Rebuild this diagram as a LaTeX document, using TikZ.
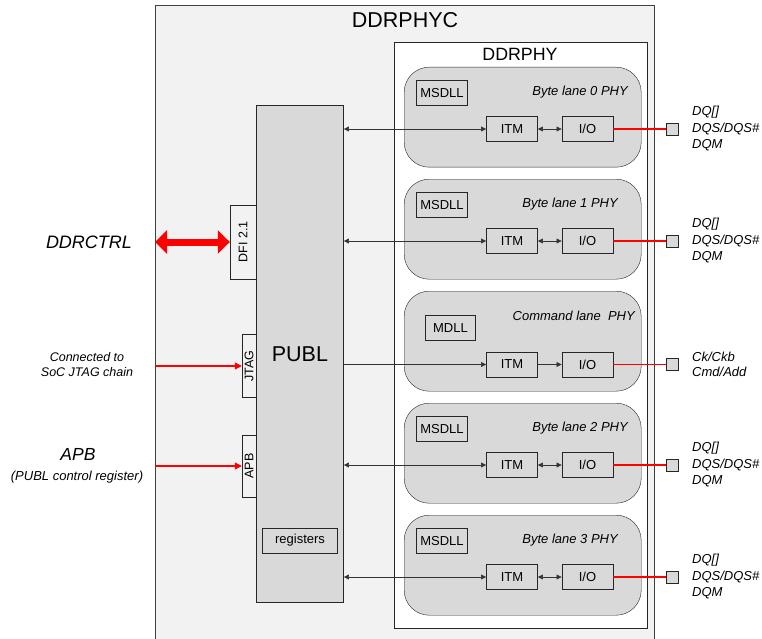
\documentclass[tikz,border=0pt]{standalone}
\usepackage{fontspec}
\setmainfont{Liberation Sans}
\usetikzlibrary{positioning,arrows.meta}

\begin{document}
\begin{tikzpicture}[x=1pt,y=-1pt,
  box/.style={draw=black!85,line width=0.9pt,fill=gray!30,inner sep=0pt,minimum width=51,minimum height=25,font=\fontsize{13}{15}\selectfont},
  port/.style={draw=black!85,fill=gray!10,inner sep=0pt,rotate=90,font=\fontsize{12.5}{15}\selectfont},
  lane/.style={draw=black!85,fill=gray!30,rounded corners=25,minimum width=237,minimum height=100,anchor=north west},
  pad/.style={draw=black!85,line width=0.9pt,fill=gray!30,minimum size=12,inner sep=0pt},
  note/.style={font=\fontsize{13}{16.5}\selectfont\itshape,align=left,inner sep=0pt},
  link/.style={draw=black!80,line width=0.6pt},
  wire/.style={draw=red,line width=1.2pt},
  >={Triangle[length=5pt,width=5pt]}]
\useasboundingbox (0,0) rectangle (762,639);

\node[draw=black!75,line width=1.2pt,fill=gray!10,minimum width=499,minimum height=660,anchor=north west] (ddrphyc) at (155,5) {};
\node[font=\fontsize{21.5}{22}\selectfont] (tphyc) at (405,20) {DDRPHYC};
\node[draw=black!85,fill=white,minimum width=253,minimum height=586,anchor=north west] (ddrphy) at (394,42) {};
\node[font=\fontsize{17.8}{18}\selectfont] (tphy) at (520,54) {DDRPHY};

% PUBL block and its ports
\node[draw=black!85,line width=0.9pt,fill=gray!30,minimum width=87,minimum height=497,anchor=north west,font=\fontsize{21.5}{22}\selectfont] (PUBL) at (256,105) {PUBL};
\node[box,minimum width=75] (regs) at (300,540.5) {registers};
\node[port,minimum width=74,minimum height=26] (DFI) at (243,242) {DFI 2.1};
\node[port,minimum width=63,minimum height=14] (JTAG) at (249,366) {JTAG};
\node[port,minimum width=62,minimum height=14] (APB) at (249,466) {APB};

% outside interfaces
\node[font=\fontsize{18}{18}\selectfont\itshape] (ctrl) at (89,242) {DDRCTRL};
\node[note,align=center,font=\fontsize{12.5}{15.5}\selectfont\itshape] (jtagtxt) at (87,364.5) {Connected to\\SoC JTAG chain};
\node[font=\fontsize{17.5}{18}\selectfont\itshape] (apbtxt) at (78,454) {APB};
\node[note,font=\fontsize{13}{15}\selectfont\itshape] (regtxt) at (77,477) {(PUBL control register)};
\draw[red,line width=7pt,{Triangle[length=12pt,width=23pt]}-{Triangle[length=12pt,width=23pt]}] (ddrphyc.west |- DFI) -- (DFI);
\draw[wire,-{Triangle[length=7pt,width=7pt]}] (ddrphyc.west |- JTAG) -- (JTAG);
\draw[wire,-{Triangle[length=7pt,width=7pt]}] (ddrphyc.west |- APB) -- (APB);

% byte lanes
\foreach \i/\t/\dx in {0/67/0,1/179/-10,2/403/0,3/515/-10} {
  \node[lane] (L\i) at (404,\t) {};
  \node[box,anchor=north west] (DLL\i) at (416,\t+13) {MSDLL};
  \node[note,anchor=east] (T\i) at (628+\dx,\t+25) {Byte lane \i\ PHY};
  \node[box] (ITM\i) at (512,\t+62) {ITM};
  \node[box] (IO\i) at (587.5,\t+62) {I/O};
  \node[pad] (P\i) at (672,\t+62) {};
  \node[note,anchor=west] (S\i) at (692,\t+62) {DQ[]\\DQS/DQS\#\\DQM};
  \draw[link,<->] (ITM\i) -- (IO\i);
  \draw[link,<->] (PUBL.east |- ITM\i) -- (ITM\i);
  \draw[wire] (IO\i) -- (P\i);
}

% command lane
\node[lane] (LC) at (404,291) {};
\node[box,minimum width=50,anchor=north west] (DLLC) at (425,315) {MDLL};
\node[note,anchor=east] (TC) at (635,316) {Command lane\ \ PHY};
\node[box] (ITMC) at (512,364.5) {ITM};
\node[box] (IOC) at (587.5,364.5) {I/O};
\node[pad] (PC) at (672,364.5) {};
\node[note,anchor=west,font=\fontsize{13}{15}\selectfont\itshape] (SC) at (692,364.5) {Ck/Ckb\\Cmd/Add};
\draw[link,->] (ITMC) -- (IOC);
\draw[link,->] (PUBL.east |- ITMC) -- (ITMC);
\draw[wire] (IOC) -- (PC);
\end{tikzpicture}
\end{document}
